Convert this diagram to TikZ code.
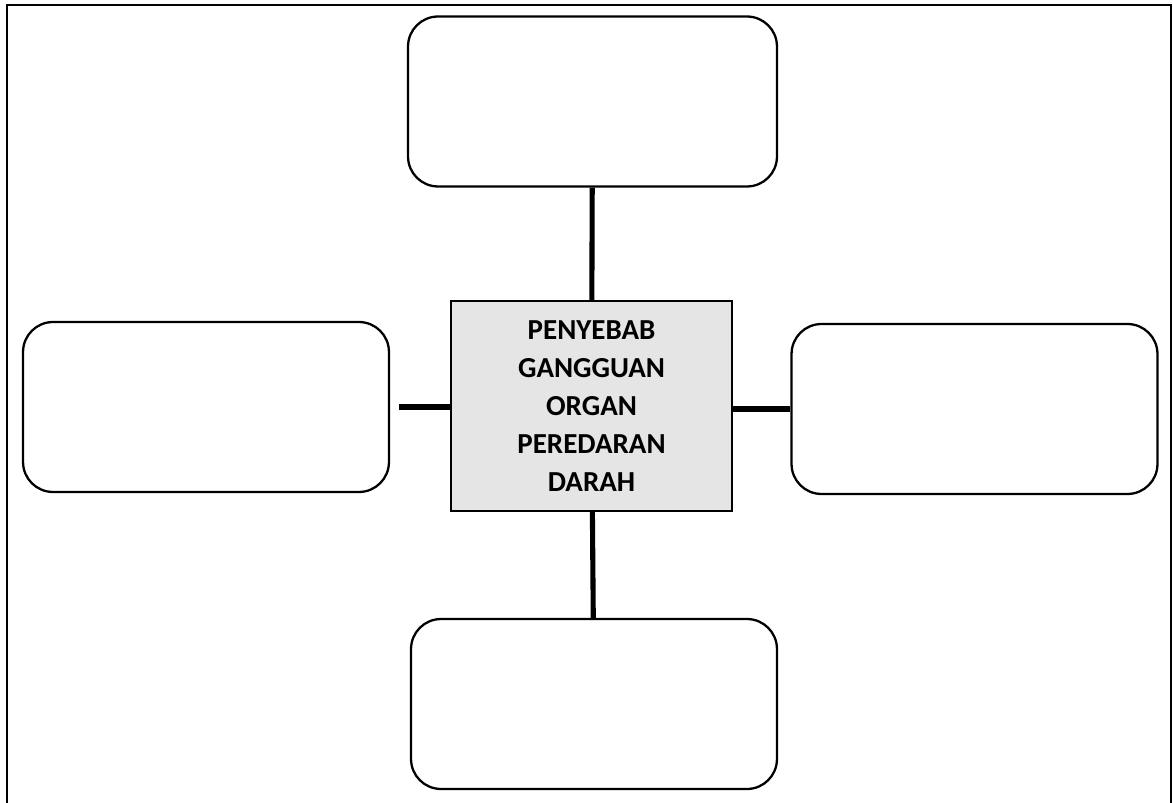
\documentclass[tikz,border=0pt]{standalone}
\usepackage{fontspec}
\setmainfont{Carlito}
\usepackage{xcolor}
\usepackage{tikz}
\usetikzlibrary{positioning}

\definecolor{abumuda}{HTML}{E5E5E5}

\begin{document}
\begin{tikzpicture}[
    x=0.02cm, y=-0.02cm,
    kotak/.style={rectangle, draw, rounded corners=0.6cm, line width=1.3pt, minimum width=7.32cm, minimum height=3.4cm, fill=white},
    pusat/.style={rectangle, draw, line width=1.3pt, minimum width=5.62cm, minimum height=4.2cm, fill=abumuda, align=center, font=\bfseries\fontsize{16.5}{21.6}\selectfont},
    garis/.style={line width=2.9pt}
]

\useasboundingbox (0,0) rectangle (1173,803);
% Frame (bottom edge falls outside the page)
\draw[line width=1.4pt] (7,830) -- (7,5) -- (1171,5) -- (1171,830);

% Centre
\node[pusat] (pusat) at (591.5,406) {PENYEBAB\\GANGGUAN\\ORGAN\\PEREDARAN\\DARAH};

% Empty boxes
\node[kotak, minimum width=7.38cm] (atas) at (592.5,101.5) {};
\node[kotak] (kiri) at (206,407) {};
\node[kotak] (kanan) at (974.5,409) {};
\node[kotak] (bawah) at (594,704) {};

% Connectors
\draw[garis] (pusat) -- (atas);
\draw[garis, shorten >=5pt] (pusat.west |- kiri.east) -- (kiri.east);
\draw[garis] (pusat.east |- kanan.west) -- (kanan.west);
\draw[garis] (pusat) -- (bawah);

\end{tikzpicture}
\end{document}
